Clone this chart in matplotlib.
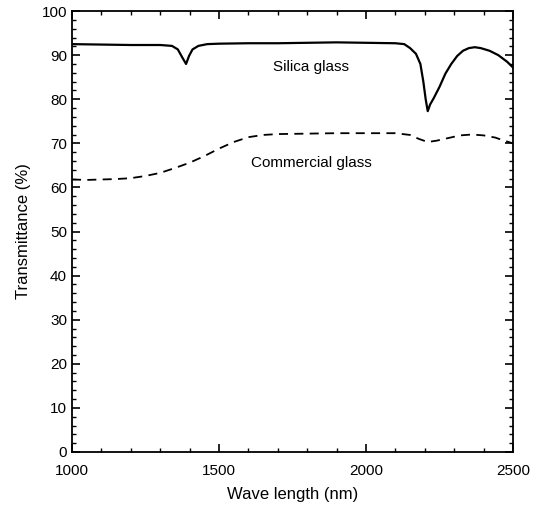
import matplotlib
matplotlib.use("Agg")
import matplotlib.pyplot as plt
from matplotlib.ticker import MultipleLocator

plt.rcParams['font.family'] = ['Liberation Sans', 'DejaVu Sans']

# silica glass
silica_x = [1000, 1100, 1200, 1300, 1340, 1360, 1375, 1388, 1398, 1410, 1430, 1460,
            1500, 1600, 1700, 1800, 1900, 2000, 2100, 2130, 2150, 2170, 2185, 2195,
            2203, 2210, 2218, 2230, 2250, 2270, 2290, 2310, 2330, 2350, 2370, 2390,
            2420, 2450, 2480, 2500]
silica_y = [92.5, 92.4, 92.3, 92.3, 92.1, 91.3, 89.5, 88.0, 89.8, 91.3, 92.1, 92.5,
            92.6, 92.7, 92.7, 92.8, 92.9, 92.8, 92.7, 92.5, 91.6, 90.3, 88.0, 84.0,
            80.0, 77.3, 78.8, 80.2, 82.8, 85.8, 88.0, 89.8, 91.0, 91.6, 91.8, 91.6,
            91.0, 90.0, 88.5, 87.2]

# commercial glass
comm_x = [1000, 1050, 1100, 1150, 1200, 1250, 1300, 1350, 1400, 1450, 1500, 1550,
          1600, 1650, 1700, 1800, 1900, 2000, 2100, 2150, 2180, 2210, 2240, 2280,
          2320, 2360, 2400, 2440, 2470, 2500]
comm_y = [61.8, 61.7, 61.8, 61.9, 62.1, 62.6, 63.3, 64.4, 65.6, 67.1, 68.8, 70.3,
          71.4, 71.9, 72.1, 72.2, 72.3, 72.3, 72.3, 71.9, 71.0, 70.3, 70.6, 71.2,
          71.8, 72.0, 71.8, 71.3, 70.6, 70.0]

fig = plt.figure(figsize=(5.4, 5.07), dpi=100)
ax = fig.add_axes([0.1333, 0.1085, 0.8167, 0.8697])

ax.plot(silica_x, silica_y, color='black', lw=1.6)
ax.plot(comm_x, comm_y, color='black', lw=1.3, linestyle=(0, (5, 3.5)))

ax.text(1684, 87.3, 'Silica glass', fontsize=11, va='center', ha='left')
ax.text(1609, 65.5, 'Commercial glass', fontsize=11, va='center', ha='left')

ax.set_xlim(1000, 2500)
ax.set_ylim(0, 100)
ax.xaxis.set_major_locator(MultipleLocator(500))
ax.xaxis.set_minor_locator(MultipleLocator(100))
ax.yaxis.set_major_locator(MultipleLocator(10))
ax.yaxis.set_minor_locator(MultipleLocator(2))
ax.tick_params(which='both', direction='in', top=True, right=True, labelsize=11)
ax.tick_params(which='major', length=6, width=1.2)
ax.tick_params(which='minor', length=3, width=1)
ax.tick_params(axis='x', which='major', pad=9)
for s in ax.spines.values():
    s.set_linewidth(1.3)

ax.set_xlabel('Wave length (nm)', fontsize=12, labelpad=6)
ax.set_ylabel('Transmittance (%)', fontsize=12, labelpad=8)

fig.savefig('out.png', dpi=100)
